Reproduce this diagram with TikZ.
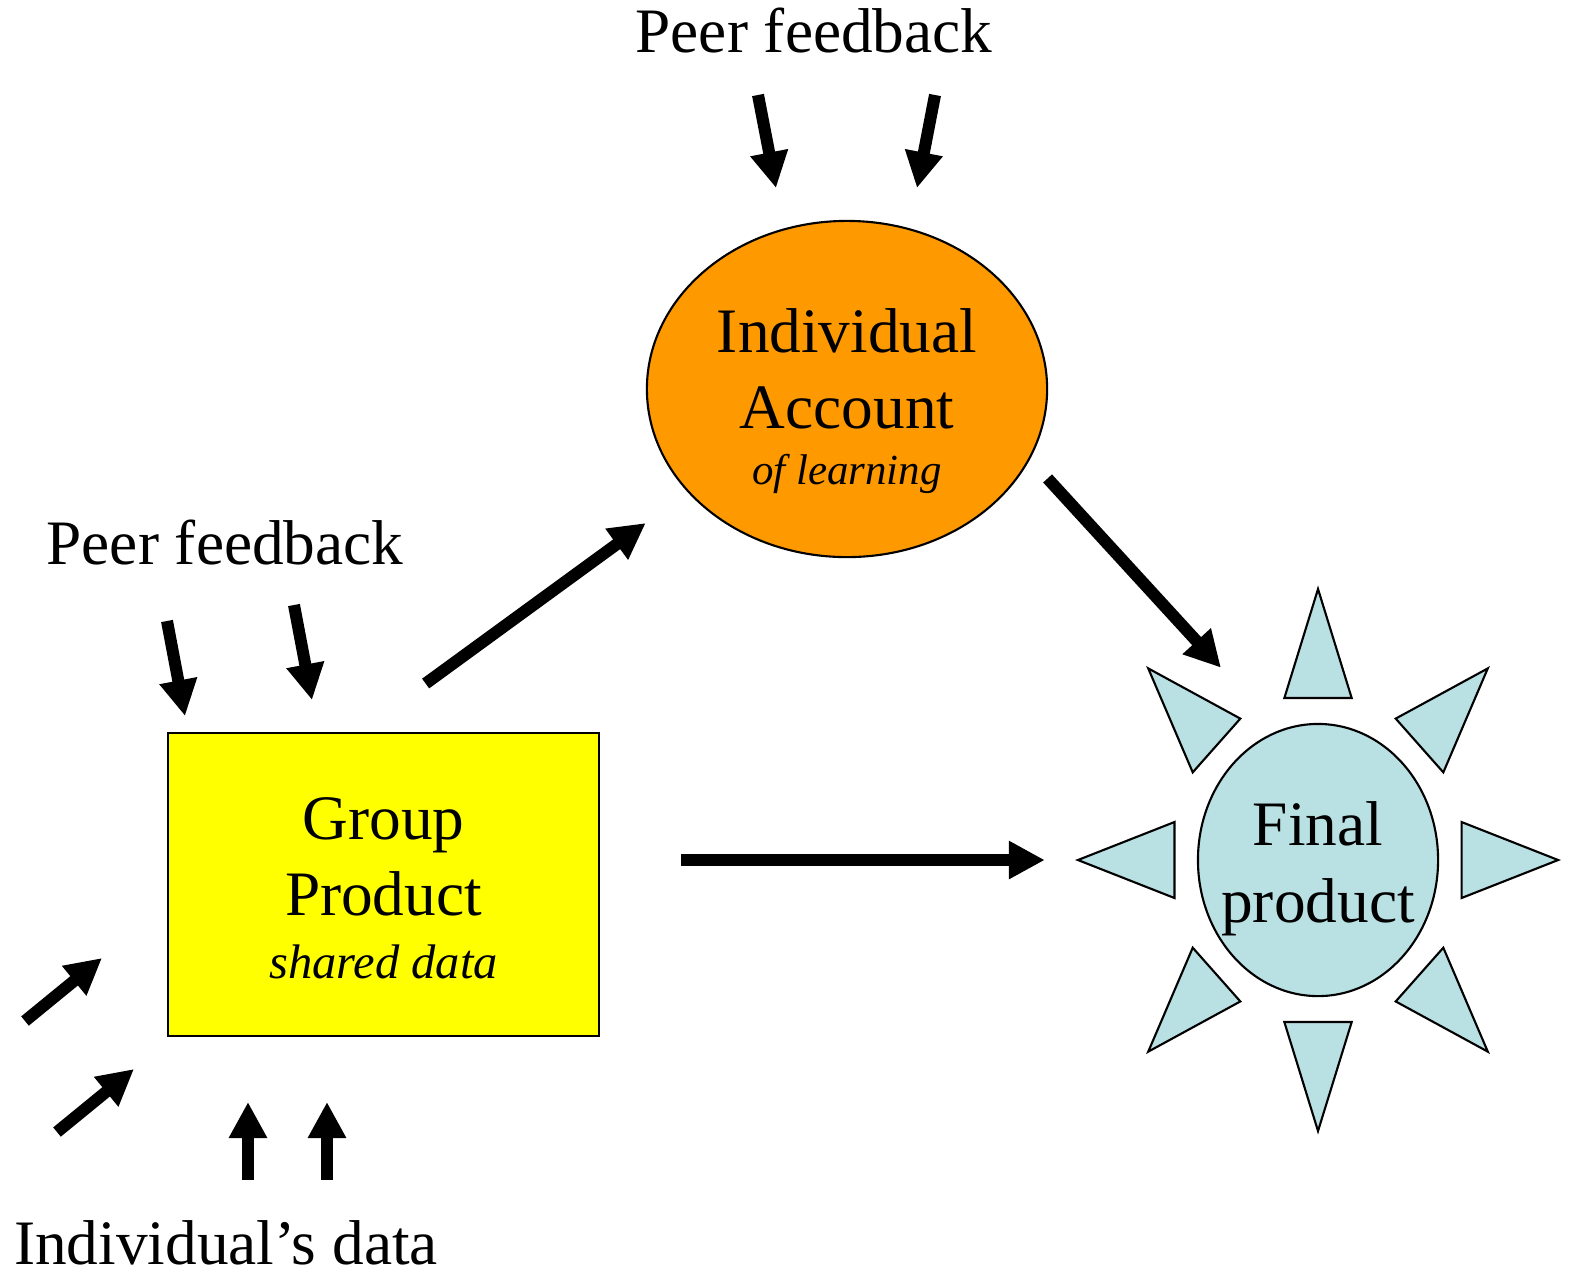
\documentclass[tikz,border=0pt]{standalone}
\usepackage{fontspec}
\setmainfont{Liberation Serif}
\usetikzlibrary{arrows.meta,shapes.geometric,calc}
\definecolor{acctorange}{HTML}{FF9900}
\definecolor{grpyellow}{HTML}{FFFF00}
\definecolor{sunblue}{HTML}{B9E0E3}

\begin{document}
\begin{tikzpicture}[x=0.01cm,y=-0.01cm,
  fat/.style={line width=1.2mm,-{Triangle[length=3.6mm,width=3.6mm]}},
  oval/.style={ellipse,draw,line width=0.6pt,inner sep=0pt},
  txt/.style={align=center,inner sep=0pt,font=\fontsize{18}{21.8}\selectfont},
  ray/.style={draw,line width=0.6pt,fill=sunblue}]
\useasboundingbox (0,0) rectangle (1571,1275);
% shapes
\node[oval,fill=acctorange,minimum width=4cm,minimum height=3.36cm] (acct) at (847,389) {};
\node[draw,line width=0.6pt,fill=grpyellow,minimum width=4.31cm,minimum height=3.03cm] (grp) at (383.5,884.5) {};
\node[oval,fill=sunblue,minimum width=2.4cm,minimum height=2.72cm] (fin) at (1318,860) {};
\begin{scope}[shift={(fin.center)}]
\begin{scope}[xscale=0.886]
\foreach \a in {0,45,...,315}
  \path[ray,rotate=\a] (271,0) -- (162,38) -- (162,-38) -- cycle;
\end{scope}
\end{scope}
% texts
\node[txt] (accttxt) at (847,401) {Individual\\Account\\[-6pt]{\itshape\fontsize{12.2}{15}\selectfont of learning}};
\node[txt] (grptxt) at (383.5,888) {Group\\Product\\[-4pt]{\itshape\fontsize{13.8}{15}\selectfont shared data}};
\node[txt] (fintxt) at (1318,869) {Final\\product};
\node[txt,anchor=base] (peertop) at (814,52) {Peer feedback};
\node[txt,anchor=base] (peerleft) at (225,564) {Peer feedback};
\node[txt,anchor=base] (owndata) at (226,1264) {Individual’s data};
% main flow
\draw[fat,shorten <=0.82cm,shorten >=0.52cm] (grp.99) -- (acct.213);
\draw[fat,shorten <=0.26cm,shorten >=0.85cm] (acct.-21) -- (fin.107);
\draw[fat,shorten <=0.81cm,shorten >=1.52cm] (grp.east |- fin.west) -- (fin.west);
% feedback and data arrows
\coordinate (t1) at (758,95);   \coordinate (t1e) at (776,188);
\coordinate (t2) at (935,95);   \coordinate (t2e) at (917,188);
\coordinate (l1) at (167,621);  \coordinate (l1e) at (185,716);
\coordinate (l2) at (294,605);  \coordinate (l2e) at (312,700);
\coordinate (d1) at (25,1021);  \coordinate (d1e) at (102,958);
\coordinate (d2) at (57,1132);  \coordinate (d2e) at (134,1069);
\coordinate (u1) at (248,1180); \coordinate (u1e) at (248,1102);
\coordinate (u2) at (327,1180); \coordinate (u2e) at (327,1102);
\foreach \s in {t1,t2,l1,l2,d1,d2,u1,u2}
  \draw[fat] (\s) -- (\s e);
\end{tikzpicture}
\end{document}
